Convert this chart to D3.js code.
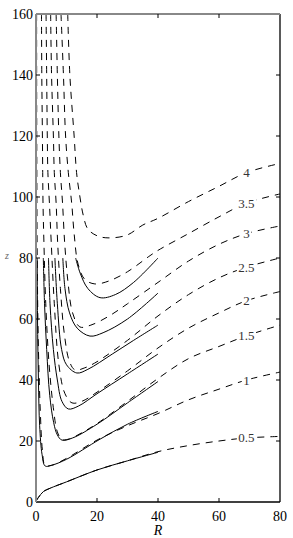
<!DOCTYPE html>
<html>
<head>
<meta charset="utf-8">
<script src="https://cdn.jsdelivr.net/npm/d3@7"></script>
<style>
  body { margin: 0; background: #fff; }
  svg { display: block; }
  text { font-family: "Liberation Serif", "Times New Roman", serif; }
</style>
</head>
<body>
<div id="chart"></div>
<script>
let width = 293;
let height = 538;
let margin = { left: 36, right: 13, top: 14, bottom: 36 };

let xTicks = [0, 20, 40, 60, 80];
let yTicks = [0, 20, 40, 60, 80, 100, 120, 140, 160];
let levels = ["0.5", "1", "1.5", "2", "2.5", "3", "3.5", "4"];
let labelR = 69;

// dashed curves, [R, z]
let dash05 = [[0, 0.3], [0.8, 1.5], [2.4, 3.4], [4.6, 4.5], [10, 6.6], [20, 10.5], [30, 13.5], [40, 16.5], [50, 18.5], [60, 20], [69, 21], [80, 21.5]];
let dash1 = [[0.2, 160], [0.25, 120], [0.4, 80], [0.8, 50], [1.4, 30], [2.1, 17], [3, 12], [5, 12], [10, 14.3], [20, 20.3], [30, 25], [40, 29], [50, 33.5], [60, 37], [69, 40], [80, 42.6]];
let dash15 = [[1.8, 160], [1.9, 140], [2.1, 120], [2.2, 108], [2.3, 98], [2.6, 85], [3.2, 65], [4.3, 45], [5.8, 30], [7, 23], [8.5, 20.5], [11, 20.7], [15, 22.7], [20, 25.7], [30, 33], [40, 40.5], [50, 47], [60, 51], [69, 54.5], [80, 58]];
let dash2 = [[3.3, 160], [3.5, 140], [3.7, 120], [3.9, 108], [4.4, 98], [5, 85], [6, 65], [7.5, 45], [9.5, 35.5], [11.8, 32.5], [15, 33], [20, 36], [30, 43], [40, 50.5], [50, 57], [60, 62], [69, 66], [80, 69]];
let dash25 = [[4.8, 160], [5.1, 140], [5.7, 120], [6, 108], [6.6, 98], [7.1, 85], [8, 70], [9.3, 55], [11, 46], [12.8, 43.3], [16, 44], [20, 46], [30, 53], [40, 61], [50, 68], [60, 73.5], [69, 77], [80, 80]];
let dash3 = [[6.6, 160], [7, 140], [7.5, 120], [8, 108], [8.7, 98], [9.4, 85], [10.5, 72], [12, 62], [14.4, 57.4], [18, 58], [24, 61], [30, 65], [40, 72], [50, 79], [60, 84.5], [69, 88], [80, 90.5]];
let dash35 = [[8.2, 160], [9, 140], [9.7, 120], [10.6, 108], [11.7, 98], [12.5, 88], [13.8, 78], [16, 73], [19.3, 71.5], [24, 72.5], [30, 75.5], [37, 80.5], [40, 82.5], [50, 88], [60, 93.5], [69, 98], [80, 101]];
let dash4 = [[10.4, 160], [11.1, 140], [12.5, 120], [13.3, 108], [14.1, 102], [15.5, 94], [17, 89.5], [20, 87.3], [23.6, 86.6], [29.8, 87.5], [35, 90.8], [40, 93], [50, 98.5], [60, 103.5], [69, 108], [80, 111]];

// solid curves, [R, z]
let solid05 = [[0, 0.3], [0.8, 1.5], [2.4, 3.4], [4.6, 4.5], [10, 6.6], [20, 10.5], [30, 13.5], [40, 16.3]];
let solid1 = [[0.4, 80], [0.5, 60], [0.8, 40], [1.2, 25], [2, 15.5], [3, 11.8], [5, 12], [10, 14], [21, 20.6], [30, 25.5], [40, 29.7]];
let solid15 = [[2.4, 80], [2.8, 65], [3.5, 50], [4.5, 35], [5.8, 26], [7, 22], [8.5, 20.3], [12, 21], [20, 25.5], [30, 32.5], [40, 39.5]];
let solid2 = [[4.1, 80], [4.6, 65], [5.7, 50], [7, 40], [8.5, 33], [10.6, 30.5], [14, 31.5], [20, 35.5], [30, 42], [40, 48.5]];
let solid25 = [[6.2, 80], [7, 65], [8.4, 50], [10, 45], [13.4, 42.3], [17, 43.5], [25, 48.5], [32, 53], [40, 58]];
let solid3 = [[8.8, 80], [9.5, 70], [11, 62], [13.5, 57], [17.7, 54.4], [22, 55.5], [30, 60], [40, 68.5]];
let solid35 = [[13, 80], [14.5, 75], [17, 70], [21, 67], [26, 68], [32, 72], [40, 80]];

let dashed = [dash05, dash1, dash15, dash2, dash25, dash3, dash35, dash4];
let solids = [solid05, solid1, solid15, solid2, solid25, solid3, solid35];

let svg = d3.select("#chart").append("svg")
  .attr("width", width)
  .attr("height", height);

let x = d3.scaleLinear().domain([0, 80]).range([margin.left, width - margin.right]);
let y = d3.scaleLinear().domain([0, 160]).range([height - margin.bottom, margin.top]);

svg.append("clipPath").attr("id", "plot-clip")
  .append("rect")
  .attr("x", x(0)).attr("y", y(160))
  .attr("width", x(80) - x(0)).attr("height", y(0) - y(160));

let line = d3.line()
  .x(d => x(d[0]))
  .y(d => y(d[1]))
  .curve(d3.curveCatmullRom.alpha(0.5));

let plot = svg.append("g").attr("clip-path", "url(#plot-clip)");

plot.selectAll(".solid")
  .data(solids)
  .join("path")
  .attr("class", "solid")
  .attr("d", line)
  .attr("fill", "none")
  .attr("stroke", "#000")
  .attr("stroke-width", 1);

plot.selectAll(".dashed")
  .data(dashed)
  .join("path")
  .attr("class", "dashed")
  .attr("d", line)
  .attr("fill", "none")
  .attr("stroke", "#000")
  .attr("stroke-width", 1)
  .attr("stroke-dasharray", "7,6");

// level labels sit in a gap of the dashed line
let labelData = dashed.map((c, i) => {
  let p = c.find(d => d[0] === labelR);
  return { text: levels[i], x: x(p[0]), y: y(p[1]) };
});

let labels = svg.selectAll(".level")
  .data(labelData)
  .join("g")
  .attr("class", "level");

labels.append("text")
  .attr("x", d => d.x)
  .attr("y", d => d.y + 4.5)
  .attr("text-anchor", "middle")
  .attr("font-size", "13px")
  .attr("fill", "#333")
  .text(d => d.text)
  .each(function () {
    let b = this.getBBox();
    d3.select(this.parentNode).insert("rect", "text")
      .attr("x", b.x - 1.5).attr("y", b.y + 2)
      .attr("width", b.width + 3).attr("height", b.height - 4)
      .attr("fill", "#fff");
  });

// frame: left and top grey, bottom and right black
svg.append("line").attr("x1", x(0)).attr("x2", x(80)).attr("y1", y(0)).attr("y2", y(0))
  .attr("stroke", "#000").attr("stroke-width", 1.3);
svg.append("line").attr("x1", x(80)).attr("x2", x(80)).attr("y1", y(0)).attr("y2", y(160))
  .attr("stroke", "#000").attr("stroke-width", 1.3);
svg.append("line").attr("x1", x(0)).attr("x2", x(80)).attr("y1", y(160)).attr("y2", y(160))
  .attr("stroke", "#888").attr("stroke-width", 2);
svg.append("line").attr("x1", x(0)).attr("x2", x(0)).attr("y1", y(0)).attr("y2", y(160))
  .attr("stroke", "#888").attr("stroke-width", 2);

// inward ticks on all sides
let tick = 4;
svg.selectAll(".xtick-b").data(xTicks.slice(1, -1)).join("line")
  .attr("x1", d => x(d)).attr("x2", d => x(d))
  .attr("y1", y(0)).attr("y2", y(0) - tick)
  .attr("stroke", "#000");
svg.selectAll(".xtick-t").data(xTicks.slice(1, -1)).join("line")
  .attr("class", "xtick-t")
  .attr("x1", d => x(d)).attr("x2", d => x(d))
  .attr("y1", y(160)).attr("y2", y(160) + tick)
  .attr("stroke", "#000");
svg.selectAll(".ytick-l").data(yTicks.slice(1, -1)).join("line")
  .attr("class", "ytick-l")
  .attr("x1", x(0)).attr("x2", x(0) + tick)
  .attr("y1", d => y(d)).attr("y2", d => y(d))
  .attr("stroke", "#000");
svg.selectAll(".ytick-r").data(yTicks.slice(1, -1)).join("line")
  .attr("class", "ytick-r")
  .attr("x1", x(80)).attr("x2", x(80) - tick)
  .attr("y1", d => y(d)).attr("y2", d => y(d))
  .attr("stroke", "#000");

svg.selectAll(".xlab").data(xTicks).join("text")
  .attr("class", "xlab")
  .attr("x", d => x(d))
  .attr("y", y(0) + 19)
  .attr("text-anchor", "middle")
  .attr("font-size", "14px")
  .text(d => d);

svg.selectAll(".ylab").data(yTicks).join("text")
  .attr("class", "ylab")
  .attr("x", x(0) - 3)
  .attr("y", d => y(d) + 5)
  .attr("text-anchor", "end")
  .attr("font-size", "14px")
  .text(d => d);

svg.append("text")
  .attr("x", (x(0) + x(80)) / 2)
  .attr("y", height - 3)
  .attr("text-anchor", "middle")
  .attr("font-size", "14px")
  .attr("font-style", "italic")
  .text("R");

svg.append("text")
  .attr("x", 7)
  .attr("y", y(80) + 1)
  .attr("text-anchor", "middle")
  .attr("font-size", "10px")
  .attr("font-style", "italic")
  .attr("fill", "#666")
  .text("z");
</script>
</body>
</html>
